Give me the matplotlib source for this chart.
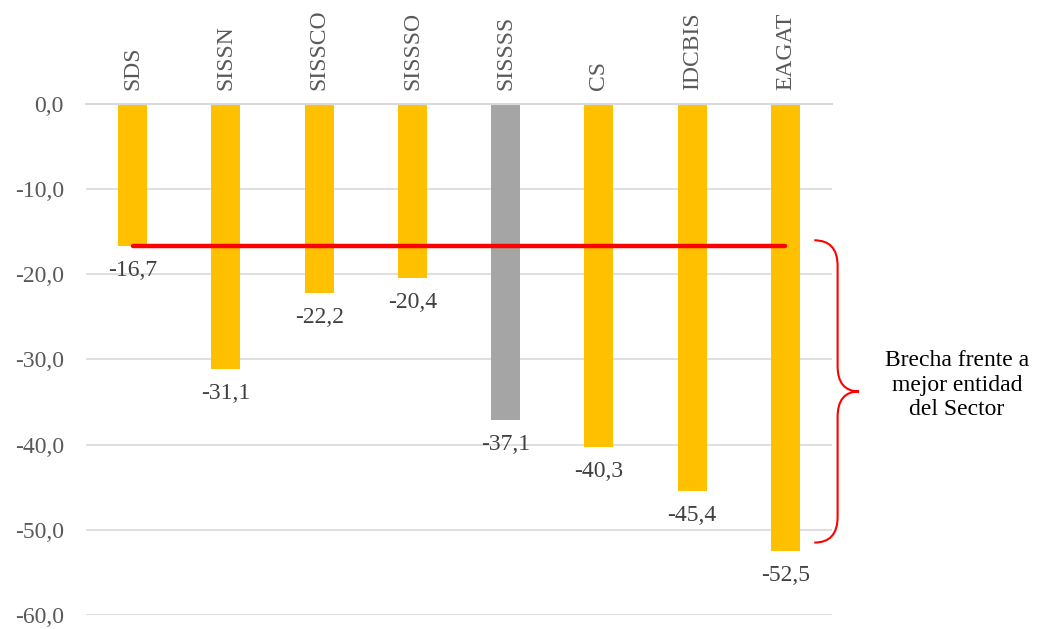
import matplotlib.pyplot as plt
import matplotlib.patches as mpatches
from matplotlib.path import Path

# datos
categorias = ["SDS", "SISSN", "SISSCO", "SISSSO", "SISSSS", "CS", "IDCBIS", "EAGAT"]
valores = [-16.7, -31.1, -22.2, -20.4, -37.1, -40.3, -45.4, -52.5]
colores = ["#FFC000", "#FFC000", "#FFC000", "#FFC000", "#A5A5A5", "#FFC000", "#FFC000", "#FFC000"]
mejor = -16.7
texto_brecha = "Brecha frente a\nmejor entidad\ndel Sector"

plt.rcParams["font.family"] = ["Liberation Serif", "DejaVu Serif"]

fig = plt.figure(figsize=(10.4, 6.29), dpi=100)
ax = fig.add_axes([0.0827, 1 - 615 / 629, 0.7173, (615 - 104) / 629])

x = list(range(len(categorias)))
ax.bar(x, valores, width=0.31, color=colores, zorder=2)

# etiquetas de valores bajo cada barra
for xi, v in zip(x, valores):
    ax.annotate(f"{v:.1f}".replace(".", ","), (xi, v), xytext=(0, -10),
                textcoords="offset points", ha="center", va="top",
                fontsize=17, color="#404040")

# linea roja de la mejor entidad
ax.plot([x[0], x[-1]], [mejor, mejor], color="#FF0000", linewidth=3.2,
        solid_capstyle="round", zorder=3)

ax.set_xlim(-0.5, 7.5)
ax.set_ylim(-60, 0)
ax.set_yticks([0, -10, -20, -30, -40, -50, -60])
ax.set_yticklabels([f"{t:.1f}".replace(".", ",") for t in [0, -10, -20, -30, -40, -50, -60]])
ax.tick_params(axis="y", length=0, pad=16, labelsize=17, labelcolor="#595959")

ax.xaxis.tick_top()
ax.set_xticks(x)
ax.set_xticklabels(categorias, rotation=90, fontsize=17, color="#595959")
ax.tick_params(axis="x", length=0, pad=10)

ax.grid(axis="y", color="#D9D9D9", linewidth=1.2, zorder=0)
ax.set_axisbelow(True)
for s in ["left", "right", "bottom"]:
    ax.spines[s].set_visible(False)
ax.spines["top"].set_color("#D9D9D9")
ax.spines["top"].set_linewidth(1.5)

# llave a la derecha
x0, x1, x2 = 7.31, 7.56, 7.79
ytop, ybot = -16.0, -51.5
ymid = (ytop + ybot) / 2
r = 3.0
verts = [
    (x0, ytop), (x1, ytop), (x1, ytop - r),
    (x1, ymid + r),
    (x1, ymid), (x2, ymid),
    (x1, ymid), (x1, ymid - r),
    (x1, ybot + r),
    (x1, ybot), (x0, ybot),
]
codes = [Path.MOVETO, Path.CURVE3, Path.CURVE3,
         Path.LINETO,
         Path.CURVE3, Path.CURVE3,
         Path.CURVE3, Path.CURVE3,
         Path.LINETO,
         Path.CURVE3, Path.CURVE3]
brace = mpatches.PathPatch(Path(verts, codes), facecolor="none",
                           edgecolor="#FF0000", linewidth=1.5, clip_on=False)
ax.add_patch(brace)

fig.text(0.92, 1 - 385 / 629, texto_brecha, ha="center", va="center",
         fontsize=17, color="black", linespacing=1.2)

fig.savefig("out.png", dpi=100)
